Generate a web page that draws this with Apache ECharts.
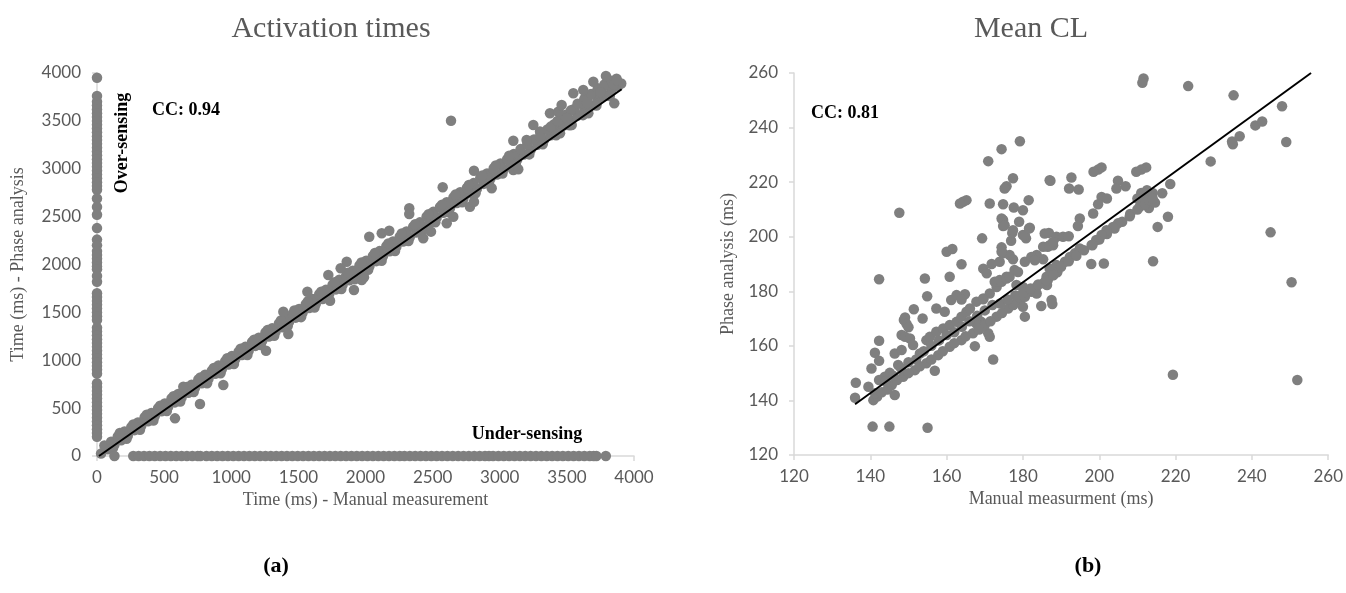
<!DOCTYPE html>
<html>
<head>
<meta charset="utf-8">
<script src="https://cdn.jsdelivr.net/npm/echarts@6/dist/echarts.min.js"></script>
<style>
  html, body { margin: 0; padding: 0; background: #fff; }
  #chart { width: 1346px; height: 593px; }
</style>
</head>
<body>
<div id="chart"></div>
<script>
// ---- (a) Activation times ----
var ticksA = [0, 500, 1000, 1500, 2000, 2500, 3000, 3500, 4000];

// points on the y axis (manual = 0) -> over-sensing
var overSensingY = [3950, 3760, 3700, 3660, 3620, 3580, 3540, 3500, 3460, 3420, 3380, 3340, 3300, 3260,
  3220, 3180, 3140, 3100, 3060, 3020, 2980, 2940, 2900, 2860, 2820, 2780, 2690, 2600, 2520, 2380,
  2260, 2200, 2140, 2100, 2060, 2020, 1980, 1950, 1880, 1820, 1700, 1660, 1620, 1580, 1540, 1500,
  1460, 1420, 1340, 1300, 1260, 1220, 1180, 1140, 1100, 1060, 1020, 980, 940, 900, 860, 760, 720,
  680, 640, 600, 560, 520, 480, 440, 400, 360, 320, 280, 240, 200];

// points on the x axis (phase = 0) -> under-sensing
var underSensingX = [130, 270, 310, 350, 390, 430, 470, 510, 550, 590, 630, 670, 710, 750, 770,
  815, 855, 895, 935, 975, 1015, 1055, 1095, 1135, 1175, 1215, 1255, 1295, 1335, 1375, 1415, 1455,
  1495, 1535, 1575, 1615, 1655, 1695, 1735, 1775, 1815, 1855, 1895, 1935, 1975, 2015, 2055, 2095,
  2135, 2175, 2215, 2255, 2290, 2330, 2370, 2410, 2450, 2490, 2530, 2570, 2610, 2650, 2690, 2730,
  2770, 2810, 2850, 2890, 2920, 2950, 2990, 3030, 3070, 3110, 3150, 3190, 3230, 3270, 3310, 3350,
  3390, 3430, 3470, 3510, 3550, 3590, 3630, 3670, 3700, 3720, 3790];

// main band along the identity line
var bandA = [[30,25],[80,70],[130,120],[180,165],[230,215],[280,270],[330,318],[380,362],[430,415],
  [480,468],[530,515],[580,560],[630,612],[680,660],[730,712],[780,760],[830,805],[880,858],[930,905],
  [980,955],[1030,1010],[1080,1055],[1130,1100],[1180,1150],[1230,1200],[1280,1248],[1330,1300],
  [1380,1345],[1430,1398],[1480,1445],[1530,1490],[1580,1545],[1630,1590],[1680,1640],[1730,1692],
  [1780,1740],[1830,1790],[1880,1835],[1930,1885],[1980,1940],[2030,1985],[2080,2035],[2130,2085],
  [2180,2138],[2230,2185],[2280,2240],[2330,2285],[2380,2335],[2430,2390],[2480,2435],[2530,2490],
  [2580,2540],[2630,2590],[2680,2642],[2730,2690],[2780,2745],[2830,2790],[2880,2842],[2930,2895],
  [2980,2940],[3030,2995],[3080,3045],[3130,3095],[3180,3148],[3230,3195],[3280,3250],[3330,3300],
  [3380,3350],[3430,3400],[3480,3455],[3530,3505],[3580,3555],[3630,3610],[3680,3660],[3730,3710],
  [3780,3760],[3830,3810],[3880,3860],
  [55,110],[105,150],[155,205],[205,255],[255,300],[305,350],[355,405],[405,450],[455,500],[505,548],
  [555,600],[605,648],[655,700],[705,745],[755,800],[805,848],[855,892],[905,945],[955,990],[1005,1045],
  [1055,1090],[1105,1140],[1155,1190],[1205,1235],[1255,1290],[1305,1335],[1355,1385],[1405,1440],
  [1455,1480],[1505,1535],[1555,1585],[1605,1640],[1655,1690],[1705,1735],[1755,1790],[1805,1840],
  [1855,1880],[1905,1935],[1955,1990],[2005,2040],[2055,2090],[2105,2140],[2155,2190],[2205,2240],
  [2255,2290],[2305,2345],[2355,2395],[2405,2440],[2455,2500],[2505,2550],[2555,2600],[2605,2650],
  [2655,2700],[2705,2755],[2755,2800],[2805,2850],[2855,2905],[2905,2950],[2955,3005],[3005,3055],
  [3055,3100],[3105,3155],[3155,3205],[3205,3255],[3255,3305],[3305,3360],[3355,3410],[3405,3465],
  [3455,3520],[3505,3570],[3555,3625],[3605,3680],[3655,3730],[3705,3780],[3755,3830],[3805,3870],
  [3855,3900],[3905,3890],
  [3200,3300],[3300,3390],[3380,3440],[3430,3500],[3480,3560],[3530,3610],[3580,3680],[3630,3730],
  [3680,3780],[3730,3840],[3780,3880],[3830,3920],[3870,3940],
  [1000,1005],[1500,1505],[2000,2010],[2500,2525],[2900,2920],[3100,3130],[3300,3330],[3500,3530],
  [3650,3690],[3750,3800],[3850,3880],
  // lower edge of the band
  [120,85],[220,180],[320,275],[420,370],[520,470],[620,570],[720,668],[820,760],[920,865],
  [1020,960],[1120,1055],[1220,1160],[1320,1255],[1420,1355],[1520,1450],[1620,1550],[1720,1650],
  [1820,1745],[1920,1845],[2020,1945],[2120,2040],[2220,2140],[2320,2245],[2420,2345],[2520,2440],
  [2620,2545],[2720,2650],[2820,2745],[2920,2850],[3020,2950],[3120,3050],[3220,3150],[3320,3255],
  [3420,3350],[3520,3455],[3620,3560],[3720,3660],[3820,3760],
  // upper edge of the band
  [170,240],[270,330],[370,430],[470,525],[570,625],[670,720],[770,820],[870,920],[970,1020],
  [1070,1120],[1170,1215],[1270,1315],[1370,1415],[1470,1520],[1570,1615],[1670,1715],[1770,1815],
  [1870,1915],[1970,2020],[2070,2120],[2170,2220],[2270,2325],[2370,2420],[2470,2525],[2570,2625],
  [2670,2730],[2770,2830],[2870,2930],[2970,3035],[3070,3135]];

var scatteredA = [[581,393],[767,543],[941,741],[1259,1100],[1425,1274],[1736,1622],[1914,1734],
  [1972,1838],[1388,1507],[1567,1716],[1723,1890],[1860,2029],[2028,2290],[643,724],[2637,3502],
  [2575,2806],[2808,2980],[2326,2587],[2326,2527],[2121,2326],[2177,2353],[1815,1960],[1989,1866],
  [2430,2274],[2488,2343],[2605,2430],[2654,2499],[2778,2604],[2808,2656],[2940,2796],[3101,2987],
  [3138,2994],[3449,3370],[3536,3457],[3660,3579],[3853,3683],[3101,3293],[3250,3457],[3374,3579],
  [3436,3596],[3461,3666],[3548,3788],[3622,3822],[3697,3909],[3791,3969],[3871,3927]];

var fitA = [[15, 0], [3908, 3830]];

// ---- (b) Mean CL ----
var ticksB = [120, 140, 160, 180, 200, 220, 240, 260];

var meanCL = [[136.2,146.5],[136,141],[139.5,145],[140.8,140.1],[141.8,141.4],[141.2,142.6],
  [140.6,130.4],[145,130.4],[155,130],[146.4,142],[140.3,151.7],[141.2,157.5],[142.3,154.5],
  [142.3,161.9],[142.3,184.4],[147.6,208.8],[154.3,184.7],[154.9,178.2],[142.3,147.5],[143.8,148.7],
  [145.1,150.1],[147.3,153],[148.2,164],[149.1,163.3],[150.4,162.7],[146.4,157.2],[148.2,158.5],
  [151.2,160.3],[153,157.2],[154.7,162.1],[155.6,163.3],[157.3,165.2],[159.1,166.4],[160.8,167.6],
  [162.6,168.8],[163.9,170.7],[165.2,172.5],[166.1,173.7],[167.8,176.2],[169.6,177.4],[171.3,179.2],
  [173.1,181.6],[174.4,183.5],[175.7,185.3],[151.4,173.4],[148.8,169.5],[149.1,170.4],[149.5,168],
  [150,166.8],[153.7,170],[157.3,173.7],[159.5,172.5],[161.2,176.8],[162.6,178.6],[164.8,178.9],
  [163.9,177],[169.6,177.1],[156.9,150.9],[167.4,159.9],[171.3,163.3],[170.9,164.6],[172.2,155],
  [169.1,168.8],[167.8,168.2],
  [145.6,145.6],[148.6,148.7],[151.7,151.1],[154.7,153.6],[157.8,156.6],[160.8,159.7],[163.9,162.1],
  [166.9,164.6],[170,167.6],[173.1,170.7],[176.1,173.7],[179.2,176.8],[182.2,179.8],[185.3,182.9],
  [187.9,185.9],[143,143],[144.5,144],[147,147.5],[150,150],[153,152.5],[156,155],[159,158],[162,161],
  [165,163.5],[168.5,166],[171.5,169],[174.5,172],[177.5,175],[180.5,178],[183.5,181.5],[186.5,184],
  [189,187],[144,147],[146,149],[148,152],[150,154],[152,155],[154,158],[156,160],[158,162],[160,164],
  [162,165],[164,167],[166,169],[168,171],[170,173],[172,175],
  [164.3,212.8],[165.2,213.4],[163.5,212.2],[171.3,212.2],[170.9,227.7],[174.4,232.1],[179.2,235],
  [177.4,221.4],[175.7,218.5],[175.2,217.7],[187,220.7],[174.8,211.9],[177.6,210.7],[180,209.7],
  [181.5,213.4],[174.4,206.7],[174.8,203.9],[179,205.5],[181.8,203.3],[169.3,199.4],[176.9,198.5],
  [177.2,201.4],[180,200.6],[180.8,199.4],[160,194.5],[161.5,195.5],[163.9,189.9],[160.8,185.3],
  [169.6,188.3],[170.5,186.6],[171.8,190],[173.9,190.8],[174.8,193.9],[176.5,193.3],[177.4,191.7],
  [174.4,196.1],[182.7,192.6],[183.6,193.3],[185.3,191.7],[185.7,201.2],[186.8,201.4],[188.8,200],
  [186.5,196.3],[187.9,196.9],[172.6,183.5],[173.9,184.1],[175.7,184.7],[176.5,185.3],[178.3,182.3],
  [180,181.6],[181.8,180.4],[183.6,179.2],[187,188.3],[188.8,189.6],[186.2,185.3],[186.3,182.3],
  [180,174.3],[180.5,170.7],[184.8,174.6],[187.5,176.8],[177.8,187.8],[178.7,187.1],[180.5,190.8],
  [182.2,192.6],[183.1,191.4],[174.4,194.5],[174.8,206.1],[175.2,204.2],[177.4,202.4],[180.5,200.6],
  [181.6,203],[185.3,196.3],[187,196.9],[187.9,198.1],[187.7,175.3],[187.2,220.5],[190.5,200],
  [192,200.2],[191,190.8],[192.3,192.6],[193.6,193.9],[194.9,195.7],[194.9,206.7],[194.4,203.9],
  [192.7,221.7],[192.1,217.7],[194.6,217.3],[197.9,190],[201.2,190.2],[200.6,225.4],[199.7,224.6],
  [198.5,223.8],[200.6,214.6],[202,214],[199.7,211.9],[198.4,208.5],[204.9,220.5],[206.9,218.5],
  [204.5,217.7],[208.1,208.3],[212.3,225.4],[211,224.6],[209.7,223.8],[210.6,211],[211.5,213],
  [212,215],[212.8,212],[213.5,214.5],[214,216],[211,216],[213,210.5],[214.6,212.5],[210,214],
  [212.5,217],[214.1,191],[215.3,203.6],[218,207.3],[218.6,219.3],[216.5,215.9],[211.6,258],
  [211.3,256.4],[223.3,255.2],[235.2,251.8],[247.9,247.8],[249,234.7],[240.9,240.8],[242.7,242.2],
  [234.8,234.9],[235,233.9],[236.8,236.8],[229.2,227.6],[244.9,201.6],[250.4,183.3],[251.9,147.5],
  [219.3,149.4],[190,189],[192,191],[194,193],[196,195],[198,197],[200,199],[202,201],[204,203],
  [206,205.5],[208,207.5],[210,210],[212,212],[213,213.5],[214,214],[204.9,204.9],[203.6,203.6],
  [201.9,202.4],[200.6,200.6],[199.2,198.8],[198.2,196.9],[174,175.5],[176,177],[178,178.5],
  [180,179.5],[182,181],[184,182.5],[186,184],[188,186]];

var fitB = [[136, 138.6], [255.5, 260]];

var overPoints = overSensingY.map(function (y) { return [0, y]; });
var underPoints = underSensingX.map(function (x) { return [x, 0]; });

var grey = '#7f7f7f';
var textGrey = '#595959';
var tickFont = 'Lato';
var serif = '"Liberation Serif", "Times New Roman", serif';
var dot = 10.5;

function makeX(idx, ticks, name, nameGap) {
    return {
        type: 'value', gridIndex: idx,
        min: ticks[0], max: ticks[ticks.length - 1], interval: ticks[1] - ticks[0],
        name: name, nameLocation: 'middle', nameGap: nameGap,
        nameTextStyle: { fontFamily: serif, fontSize: 18, color: textGrey },
        axisLine: { show: true, onZero: false, lineStyle: { color: '#d9d9d9', width: 1.5 } },
        axisTick: { show: true, length: 5, lineStyle: { color: '#d9d9d9', width: 1.5 } },
        axisLabel: { fontFamily: tickFont, fontSize: 17, color: textGrey, margin: 13,
                     formatter: function (v) { return String(v); } },
        splitLine: { show: false }
    };
}

function makeY(idx, ticks, name, nameGap) {
    return {
        type: 'value', gridIndex: idx,
        min: ticks[0], max: ticks[ticks.length - 1], interval: ticks[1] - ticks[0],
        name: name, nameLocation: 'middle', nameGap: nameGap,
        nameTextStyle: { fontFamily: serif, fontSize: 18, color: textGrey },
        axisLine: { show: true, onZero: false, lineStyle: { color: '#d9d9d9', width: 1.5 } },
        axisTick: { show: true, length: 5, lineStyle: { color: '#d9d9d9', width: 1.5 } },
        axisLabel: { fontFamily: tickFont, fontSize: 17, color: textGrey, margin: 16,
                     formatter: function (v) { return String(v); } },
        splitLine: { show: false }
    };
}

var myChart = echarts.init(document.getElementById('chart'));
var option = {
    backgroundColor: '#fff',
    animation: false,
    title: [
        { text: 'Activation times', left: 326, top: 9, textAlign: 'center',
          textStyle: { fontFamily: serif, fontSize: 30, fontWeight: 'normal', color: textGrey } },
        { text: 'Mean CL', left: 1026, top: 9, textAlign: 'center',
          textStyle: { fontFamily: serif, fontSize: 30, fontWeight: 'normal', color: textGrey } }
    ],
    grid: [
        { left: 97, top: 73, width: 537, height: 383 },
        { left: 794, top: 73, width: 535, height: 382 }
    ],
    xAxis: [
        makeX(0, ticksA, 'Time (ms) - Manual measurement', 22),
        makeX(1, ticksB, 'Manual measurment (ms)', 22)
    ],
    yAxis: [
        makeY(0, ticksA, 'Time (ms) - Phase analysis', 70),
        makeY(1, ticksB, 'Phase analysis (ms)', 57)
    ],
    series: [
        { type: 'scatter', xAxisIndex: 0, yAxisIndex: 0, clip: false, symbolSize: dot,
          itemStyle: { color: grey, opacity: 1 }, data: bandA.concat(scatteredA) },
        { type: 'scatter', xAxisIndex: 0, yAxisIndex: 0, clip: false, symbolSize: dot,
          itemStyle: { color: grey, opacity: 1 }, data: overPoints },
        { type: 'scatter', xAxisIndex: 0, yAxisIndex: 0, clip: false, symbolSize: dot,
          itemStyle: { color: grey, opacity: 1 }, data: underPoints },
        { type: 'line', xAxisIndex: 0, yAxisIndex: 0, data: fitA, showSymbol: false, z: 5,
          lineStyle: { color: '#000', width: 2 } },
        { type: 'scatter', xAxisIndex: 1, yAxisIndex: 1, clip: false, symbolSize: dot,
          itemStyle: { color: grey, opacity: 1 }, data: meanCL },
        { type: 'line', xAxisIndex: 1, yAxisIndex: 1, data: fitB, showSymbol: false, z: 5,
          lineStyle: { color: '#000', width: 2 } }
    ],
    graphic: [
        { type: 'text', x: 152, y: 110, style: { text: 'CC: 0.94', fill: '#000',
          font: 'bold 18px ' + serif, verticalAlign: 'middle' } },
        { type: 'text', x: 122, y: 143, rotation: Math.PI / 2, style: { text: 'Over-sensing', fill: '#000',
          font: 'bold 18px ' + serif, align: 'center', verticalAlign: 'middle' } },
        { type: 'text', x: 527, y: 434, style: { text: 'Under-sensing', fill: '#000',
          font: 'bold 18px ' + serif, align: 'center', verticalAlign: 'middle' } },
        { type: 'text', x: 811, y: 113, style: { text: 'CC: 0.81', fill: '#000',
          font: 'bold 18px ' + serif, verticalAlign: 'middle' } },
        { type: 'text', x: 276, y: 566, style: { text: '(a)', fill: '#000',
          font: 'bold 22px ' + serif, align: 'center', verticalAlign: 'middle' } },
        { type: 'text', x: 1088, y: 566, style: { text: '(b)', fill: '#000',
          font: 'bold 22px ' + serif, align: 'center', verticalAlign: 'middle' } }
    ]
};
myChart.setOption(option);
</script>
</body>
</html>
